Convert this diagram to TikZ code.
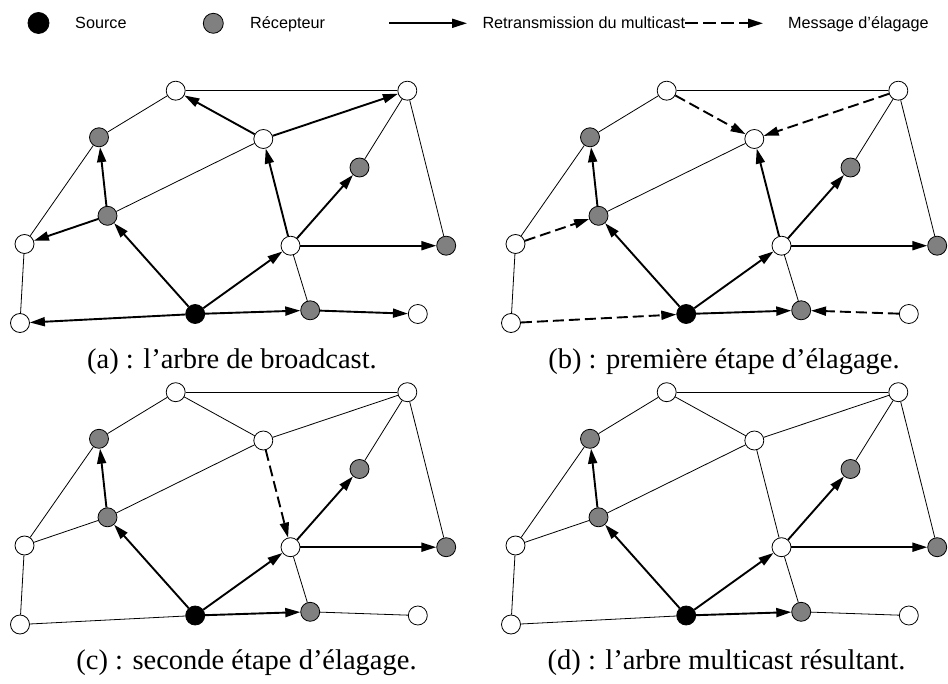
\documentclass[tikz,border=0pt]{standalone}
\usepackage{fontspec}
\setmainfont{Liberation Serif}
\newfontfamily\legendfont{Liberation Sans}
\usetikzlibrary{arrows.meta}

% Places the 13 routers of the network, names prefixed by #1, shifted by (#2,#3)
\newcommand\network[3]{%
  \begin{scope}[shift={(#2,#3)}]
    \node[vtx] (#1A) at (175.7,90.7)  {};
    \node[rcv] (#1B) at (99,137.3)    {};
    \node[vtx] (#1C) at (263.3,139)   {};
    \node[vtx] (#1D) at (407.3,90.7)  {};
    \node[rcv] (#1E) at (359.5,167.5) {};
    \node[rcv] (#1F) at (107.5,215.8) {};
    \node[vtx] (#1G) at (24.5,244)    {};
    \node[vtx] (#1H) at (290.5,245.7) {};
    \node[rcv] (#1I) at (446.2,245.7) {};
    \node[vtx] (#1J) at (20,323)      {};
    \node[src] (#1K) at (195.2,314)   {};
    \node[rcv] (#1L) at (310.2,310.3) {};
    \node[vtx] (#1M) at (417.8,314)   {};
  \end{scope}}

\begin{document}
\begin{tikzpicture}[x=1pt,y=-1pt,
  vtx/.style={circle,draw,line width=0.8pt,minimum size=19pt,inner sep=0pt,fill=white},
  rcv/.style={vtx,fill=gray},
  src/.style={vtx,fill=black},
  link/.style={line width=0.8pt},
  arrowtip/.style={-{Triangle[length=15pt,width=9pt]}},
  fwd/.style={line width=1.9pt,arrowtip},
  prune/.style={line width=1.9pt,dash pattern=on 11pt off 5pt,arrowtip},
  capt/.style={font=\fontsize{28.5}{30}\selectfont,anchor=base,inner sep=0pt},
  legendtext/.style={font=\legendfont\fontsize{16.2}{18}\selectfont,anchor=base west,inner sep=0pt}
]
\useasboundingbox (0,0) rectangle (948,684);

% ---- legend ----
\node[src,minimum size=21pt] (lsrc) at (38.5,23) {};
\node[legendtext] (lsrct) at (75,28.5) {Source};
\node[rcv,minimum size=20pt] (lrcv) at (213.3,23.3) {};
\node[legendtext] (lrcvt) at (250,28.5) {Récepteur};
\coordinate (f0) at (389,23.3);
\coordinate (f1) at (467,23.3);
\draw[fwd] (f0) -- (f1);
\node[legendtext] (lfwd) at (482.3,28.5) {Retransmission du multicast};
\coordinate (p0) at (685,23.3);
\coordinate (p1) at (763,23.3);
\draw[prune,dash pattern=on 13pt off 5pt] (p0) -- (p1);
\node[legendtext] (lprune) at (788,28.5) {Message d’élagage};

% ---- the four networks ----
\network{a}{0}{0}
\network{b}{491}{0}
\network{c}{0}{301.5}
\network{d}{491}{301.5}

% (a) broadcast tree
\foreach \u/\v in {A/D,A/B,D/E,D/I,B/G,F/C,H/L,G/J}
  \draw[link] (a\u) -- (a\v);
\foreach \u/\v in {C/A,C/D,F/B,F/G,K/F,K/H,H/C,H/E,H/I,K/L,L/M,K/J}
  \draw[fwd] (a\u) -- (a\v);

% (b) first pruning step
\foreach \u/\v in {A/D,A/B,D/E,D/I,B/G,F/C,H/L,G/J}
  \draw[link] (b\u) -- (b\v);
\foreach \u/\v in {F/B,K/F,K/H,H/C,H/E,H/I,K/L}
  \draw[fwd] (b\u) -- (b\v);
\foreach \u/\v in {A/C,D/C,G/F,M/L,J/K}
  \draw[prune] (b\u) -- (b\v);

% (c) second pruning step
\foreach \u/\v in {A/D,A/B,D/E,D/I,B/G,F/C,H/L,G/J,A/C,C/D,F/G,L/M,K/J}
  \draw[link] (c\u) -- (c\v);
\foreach \u/\v in {F/B,K/F,K/H,H/E,H/I,K/L}
  \draw[fwd] (c\u) -- (c\v);
\draw[prune] (cC) -- (cH);

% (d) resulting multicast tree
\foreach \u/\v in {A/D,A/B,D/E,D/I,B/G,F/C,H/L,G/J,A/C,C/D,F/G,L/M,K/J,C/H}
  \draw[link] (d\u) -- (d\v);
\foreach \u/\v in {F/B,K/F,K/H,H/E,H/I,K/L}
  \draw[fwd] (d\u) -- (d\v);

% ---- captions ----
\node[capt] (capa) at (232,369) {(a) : l’arbre de broadcast.};
\node[capt] (capb) at (724,369) {(b) : première étape d’élagage.};
\node[capt] (capc) at (246.5,669) {(c) : seconde étape d’élagage.};
\node[capt] (capd) at (726.5,669) {(d) : l’arbre multicast résultant.};
\end{tikzpicture}
\end{document}
